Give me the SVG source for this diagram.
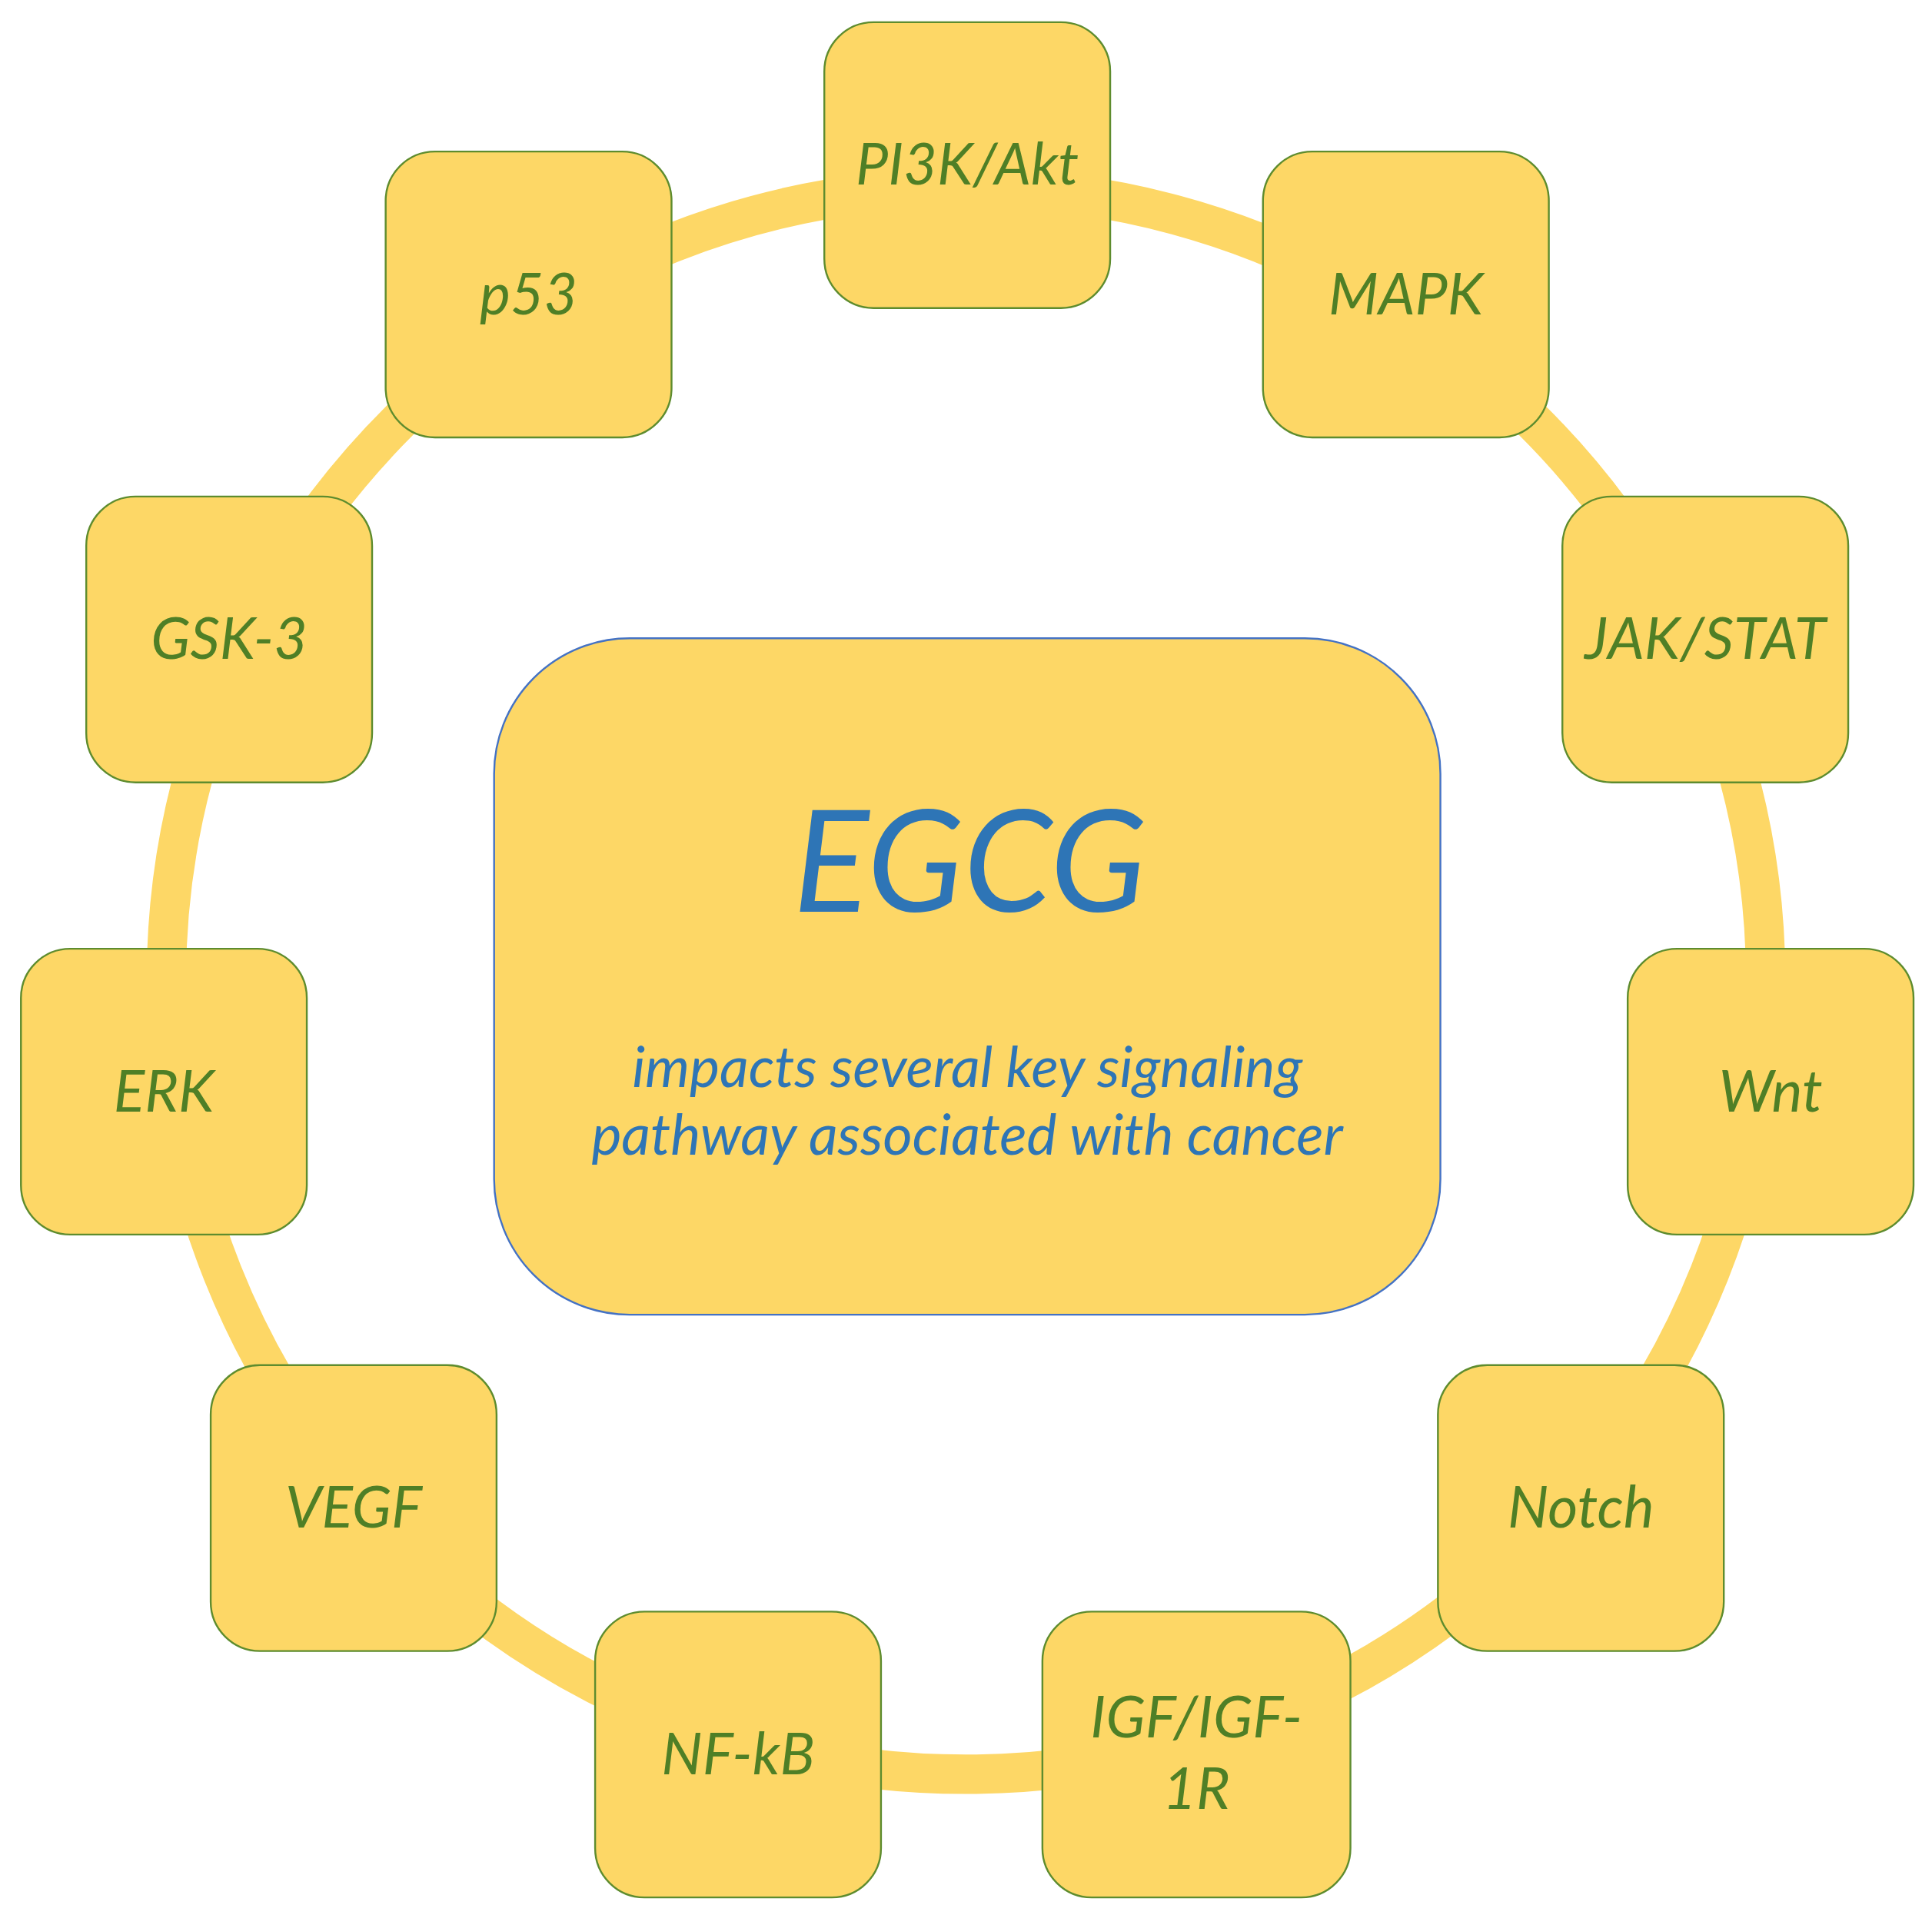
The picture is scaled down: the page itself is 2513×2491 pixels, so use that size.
<svg xmlns="http://www.w3.org/2000/svg" width="2513" height="2491" viewBox="0 0 2513 2491">
<style>
.n{fill:#FDD766;stroke:#5E8C2E;stroke-width:1.5}
.t{font-family:Lato,"Open Sans",sans-serif;font-style:italic;font-size:47px;fill:#4F7F26;text-anchor:middle}
.c{font-family:Lato,"Open Sans",sans-serif;font-style:italic;fill:#2E75B6;text-anchor:middle}
</style>
<rect width="2513" height="2491" fill="#fff"/>
<g transform="scale(1.6027)">
<g id="connectors"><ellipse cx="784" cy="796" rx="649" ry="644" fill="none" stroke="#FDD766" stroke-width="32"/></g>
<g id="pi3k"><rect class="n" x="669" y="18" width="232" height="232" rx="40"/><text class="t" x="785" y="150">PI3K/Akt</text></g>
<g id="mapk"><rect class="n" x="1025" y="123" width="232" height="232" rx="40"/><text class="t" x="1141" y="255">MAPK</text></g>
<g id="jakstat"><rect class="n" x="1268" y="403" width="232" height="232" rx="40"/><text class="t" x="1384" y="535">JAK/STAT</text></g>
<g id="wnt"><rect class="n" x="1321" y="770" width="232" height="232" rx="40"/><text class="t" x="1437" y="902">Wnt</text></g>
<g id="notch"><rect class="n" x="1167" y="1108" width="232" height="232" rx="40"/><text class="t" x="1283" y="1240">Notch</text></g>
<g id="igf"><rect class="n" x="846" y="1308" width="250" height="232" rx="40"/><text class="t" x="971" y="1410">IGF/IGF-</text><text class="t" x="971" y="1468">1R</text></g>
<g id="nfkb"><rect class="n" x="483" y="1308" width="232" height="232" rx="40"/><text class="t" x="599" y="1440">NF-kB</text></g>
<g id="vegf"><rect class="n" x="171" y="1108" width="232" height="232" rx="40"/><text class="t" x="287" y="1240">VEGF</text></g>
<g id="erk"><rect class="n" x="17" y="770" width="232" height="232" rx="40"/><text class="t" x="133" y="902">ERK</text></g>
<g id="gsk3"><rect class="n" x="70" y="403" width="232" height="232" rx="40"/><text class="t" x="186" y="535">GSK-3</text></g>
<g id="p53"><rect class="n" x="313" y="123" width="232" height="232" rx="40"/><text class="t" x="429" y="255">p53</text></g>
<g id="egcg"><rect x="401" y="518" width="768" height="549" rx="110" fill="#FDD766" stroke="#4472C4" stroke-width="1.5"/>
<text class="c" x="787" y="740" font-size="115">EGCG</text>
<text class="c" x="785" y="882" font-size="46">impacts several key signaling</text>
<text class="c" x="785" y="937" font-size="46">pathway associated with cancer</text></g>
</g>
</svg>
